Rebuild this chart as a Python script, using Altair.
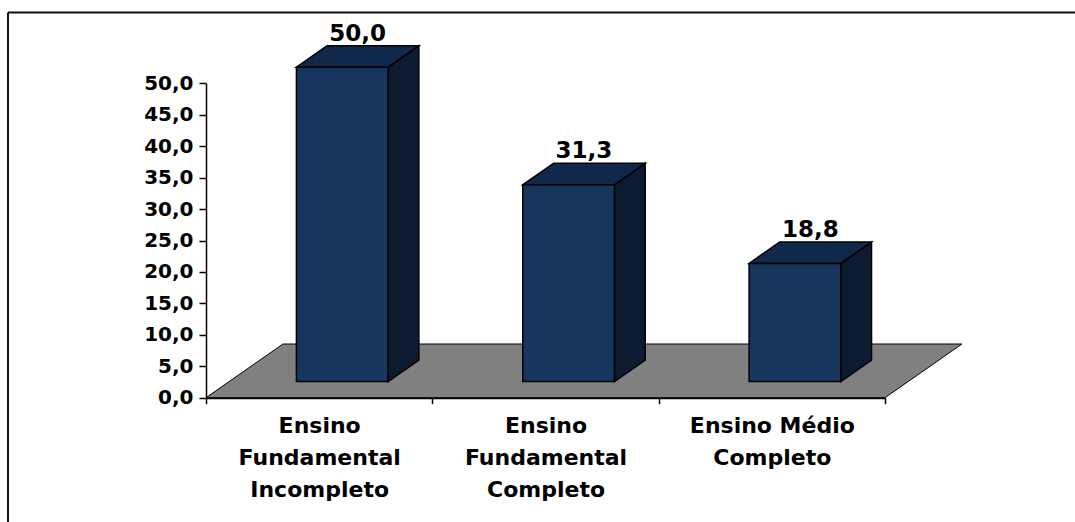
import json
import altair as alt
import pandas as pd

# Education level of respondents (%)
categories = [
    ["Ensino", "Fundamental", "Incompleto"],
    ["Ensino", "Fundamental", "Completo"],
    ["Ensino Médio", "Completo"],
]
values = [50.0, 31.3, 18.8]
y_ticks = [0, 5, 10, 15, 20, 25, 30, 35, 40, 45, 50]

# Pseudo-3D geometry, expressed in data units
DEPTH_X = 0.34      # floor depth along x (category units)
DEPTH_Y = 8.54      # floor depth along y (value units)
BAR_W = 0.405       # bar width (category units)
FRONT, BACK = 0.3, 0.7  # bar position inside the floor depth

FRONT_COLOR = "#17365D"
TOP_COLOR = "#0F284C"
SIDE_COLOR = "#0D1B31"
FLOOR_COLOR = "#808080"
FONT = "DejaVu Sans"

# Plot area starts at the value axis
LEFT = 206
W, H = 1075 - LEFT, 522

n = len(values)
front_rows, top_rows, side_rows, label_rows = [], [], [], []
for i, v in enumerate(values):
    c = i + 0.5
    left, right = c - BAR_W / 2, c + BAR_W / 2
    front_rows.append({"bar": i, "x": left + FRONT * DEPTH_X, "x2": right + FRONT * DEPTH_X,
                       "y": FRONT * DEPTH_Y, "y2": v + FRONT * DEPTH_Y})
    for f in (FRONT, BACK):
        top_rows.append({"bar": i, "y": v + f * DEPTH_Y,
                         "x": left + f * DEPTH_X, "x2": right + f * DEPTH_X})
        side_rows.append({"bar": i, "x": right + f * DEPTH_X,
                          "y": f * DEPTH_Y, "y2": v + f * DEPTH_Y})
    label_rows.append({"x": c + 0.5 * DEPTH_X, "y": v + BACK * DEPTH_Y,
                       "text": f"{v:.1f}".replace(".", ",")})

floor_rows = [
    {"y": 0.0, "x": 0.0, "x2": float(n)},
    {"y": DEPTH_Y, "x": DEPTH_X, "x2": n + DEPTH_X},
]

xs = alt.Scale(domain=[0, n], range=[0, 679], nice=False, zero=False)
ys = alt.Scale(domain=[0, 50], range=[397.7, 83.3], nice=False, zero=False)

y_axis = alt.Axis(
    values=y_ticks, title=None, grid=False, orient="left", format=".1f",
    labelExpr="replace(datum.label, '.', ',')",
    labelFont=FONT, labelFontWeight="bold", labelFontSize=20, labelColor="black",
    labelPadding=6, tickSize=7, tickColor="black", tickWidth=1.5,
    domainColor="black", domainWidth=1.5,
)
x_tick_axis = alt.Axis(
    values=list(range(n + 1)), title=None, grid=False, labels=False, orient="bottom",
    offset=-(H - 397.7), tickSize=6, tickColor="black", tickWidth=1.5,
    domainColor="black", domainWidth=2,
)
x_label_axis = alt.Axis(
    values=[i + 0.5 for i in range(n)], title=None, grid=False, orient="bottom",
    offset=-(H - 397.7), ticks=False, tickSize=0, domain=False,
    labelExpr=json.dumps(categories, ensure_ascii=False) + "[floor(datum.value)]",
    labelFont=FONT, labelFontWeight="bold", labelFontSize=22, labelColor="black",
    labelLineHeight=32, labelPadding=18, labelAngle=0, labelOverlap=False,
)

floor = alt.Chart(pd.DataFrame(floor_rows)).mark_area(
    orient="horizontal", color=FLOOR_COLOR, stroke="black", strokeWidth=1, opacity=1
).encode(
    y=alt.Y("y:Q", scale=ys, axis=None, stack=None),
    x=alt.X("x:Q", scale=xs, axis=x_tick_axis, stack=None),
    x2="x2:Q",
)

sides = alt.Chart(pd.DataFrame(side_rows)).mark_area(
    orient="vertical", color=SIDE_COLOR, stroke="black", strokeWidth=1.5, opacity=1
).encode(
    x=alt.X("x:Q", scale=xs, axis=None, stack=None),
    y=alt.Y("y:Q", scale=ys, axis=None, stack=None),
    y2="y2:Q",
    detail="bar:N",
)

tops = alt.Chart(pd.DataFrame(top_rows)).mark_area(
    orient="horizontal", color=TOP_COLOR, stroke="black", strokeWidth=1.5, opacity=1
).encode(
    y=alt.Y("y:Q", scale=ys, axis=None, stack=None),
    x=alt.X("x:Q", scale=xs, axis=None, stack=None),
    x2="x2:Q",
    detail="bar:N",
)

fronts = alt.Chart(pd.DataFrame(front_rows)).mark_rect(
    color=FRONT_COLOR, stroke="black", strokeWidth=1.5
).encode(
    x=alt.X("x:Q", scale=xs, axis=x_label_axis),
    x2="x2:Q",
    y=alt.Y("y:Q", scale=ys, axis=y_axis),
    y2="y2:Q",
)

labels = alt.Chart(pd.DataFrame(label_rows)).mark_text(
    font=FONT, fontWeight="bold", fontSize=23, color="black",
    align="center", baseline="alphabetic", dy=-5,
).encode(
    x=alt.X("x:Q", scale=xs, axis=None),
    y=alt.Y("y:Q", scale=ys, axis=None),
    text="text:N",
)

# Chart frame (top and left edges)
frame_data = pd.DataFrame({"k": [0]})
frame_top = alt.Chart(frame_data).mark_rule(color="#111111", strokeWidth=2).encode(
    x=alt.value(8 - LEFT), x2=alt.value(W), y=alt.value(12.5)
)
frame_left = alt.Chart(frame_data).mark_rule(color="#111111", strokeWidth=2).encode(
    x=alt.value(8 - LEFT), y=alt.value(12.5), y2=alt.value(H)
)

chart = alt.layer(
    floor, sides, tops, fronts, labels, frame_top, frame_left
).resolve_axis(x="independent", y="independent").properties(
    width=W, height=H,
    padding={"left": LEFT, "top": 0, "right": 0, "bottom": 0},
    autosize=alt.AutoSizeParams(type="none"),
    background="white",
).configure_view(stroke=None)

chart.save("out.html", embed_options={"renderer": "svg", "actions": False})
